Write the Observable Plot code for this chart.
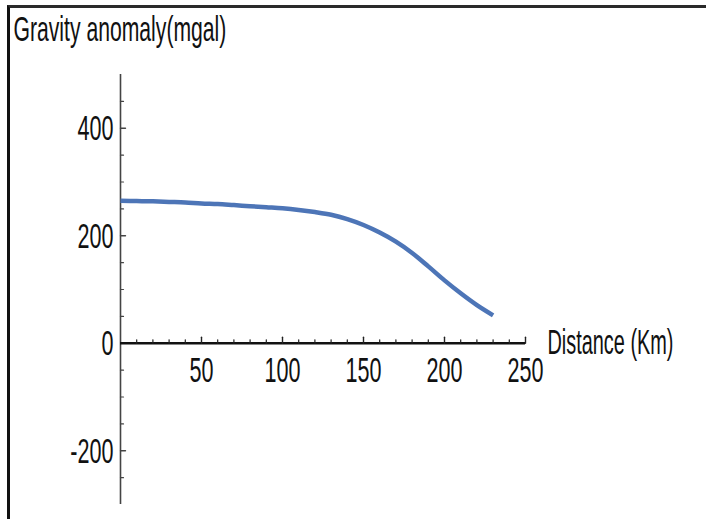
<!DOCTYPE html>
<html><head><meta charset="utf-8">
<script src="https://cdn.jsdelivr.net/npm/d3@7"></script>
<script src="https://cdn.jsdelivr.net/npm/@observablehq/plot@0.6"></script>
<style>
body{margin:0;background:#fff;}
#wrap{position:relative;width:706px;height:519px;overflow:hidden;}
#frame{position:absolute;left:7px;top:5px;right:-10px;bottom:-10px;border-left:3px solid #111;border-top:3px solid #2a2a2a;pointer-events:none;}
</style>
</head><body>
<div id="wrap"><div id="chart"></div><div id="frame"></div></div>
<script>
const distance = [0,10,20,30,40,50,60,70,80,90,100,110,120,130,140,150,160,170,180,190,200,210,220,230];
const anomaly  = [265,264.5,264,263,262,260,259,257,255,253,251,248,244,239,231,220,206,189,168,143,117,93,71,52];
const xDomain = [0, 250];
const yDomain = [-300, 500];
const xMajorTicks = [50,100,150,200,250];
const xMinorTicks = [10,20,30,40,60,70,80,90,110,120,130,140,160,170,180,190,210,220,230,240];
const yMajorTicks = [-200,0,200,400];
const yTickLabels = ["-200","0","200","400"];
const yMinorTicks = [-250,-150,-100,-50,50,100,150,250,300,350,450];
const xLabel = "Distance (Km)";
const yLabel = "Gravity anomaly(mgal)";

const tickShape = {draw(ctx, l){ ctx.moveTo(0,0); ctx.lineTo(0,-l); }};
const FS = 35;

const plot = Plot.plot({
  width: 706, height: 519,
  marginLeft: 120, marginRight: 181, marginTop: 74, marginBottom: 15,
  x: {domain: xDomain, axis: null},
  y: {domain: yDomain, axis: null},
  style: {fontFamily: "'Liberation Sans Narrow','Arial Narrow','Liberation Sans',sans-serif", background: "transparent"},
  marks: [
    Plot.ruleX([0], {y1: yDomain[0], y2: yDomain[1], stroke: "#444", strokeWidth: 1.6}),
    Plot.vector(yMajorTicks.filter(d => d !== 0), {x: 0, y: d => d, length: 5, rotate: 90, anchor: "start", shape: tickShape, stroke: "#444", strokeWidth: 1.4}),
    Plot.vector(yMinorTicks, {x: 0, y: d => d, length: 3, rotate: 90, anchor: "start", shape: tickShape, stroke: "#444", strokeWidth: 1.2}),
    Plot.ruleY([0], {x1: xDomain[0], x2: xDomain[1], stroke: "#111", strokeWidth: 2.6}),
    Plot.vector(xMajorTicks, {x: d => d, y: 0, length: 6, rotate: 0, anchor: "start", shape: tickShape, stroke: "#222", strokeWidth: 1.4}),
    Plot.vector(xMinorTicks, {x: d => d, y: 0, length: 3.5, rotate: 0, anchor: "start", shape: tickShape, stroke: "#222", strokeWidth: 1.2}),
    Plot.line(distance, {x: d => d, y: (d, i) => anomaly[i], curve: "catmull-rom", stroke: "#4d75b7", strokeWidth: 4.5, strokeLinecap: "butt"}),
    Plot.text(xMajorTicks, {x: d => d, y: 0, text: d => String(d), lineAnchor: "top", dy: 14, fontSize: FS, fill: "#111"}),
    Plot.text(yMajorTicks, {x: 0, y: d => d, text: (d, i) => yTickLabels[i], textAnchor: "end", dx: -7, dy: 1, fontSize: FS, fill: "#111"}),
    Plot.text([xLabel], {x: xDomain[1], y: 0, text: d => d, textAnchor: "start", dx: 22, fontSize: FS, fill: "#111"}),
    Plot.text([yLabel], {frameAnchor: "top-left", text: d => d, textAnchor: "start", lineAnchor: "bottom", dx: -107, dy: -34, fontSize: FS, fill: "#111"})
  ]
});
document.getElementById("chart").appendChild(plot);

// condense the lettering like the reference (narrow, tall glyphs) by a horizontal scale about each text's anchor
const texts = Array.from(plot.querySelectorAll("text"));
const ref = texts.find(t => t.textContent === "400");
const kNum = ref ? 36 / ref.getComputedTextLength() : 0.75;
const targets = {[xLabel]: 126, [yLabel]: 213};
for (const t of texts) {
  const w = t.getComputedTextLength();
  const k = targets[t.textContent] ? targets[t.textContent] / w : kNum;
  const tr = t.getAttribute("transform") || "";
  t.setAttribute("transform", (tr + ` scale(${k.toFixed(4)},1)`).trim());
}
</script>
</body></html>
